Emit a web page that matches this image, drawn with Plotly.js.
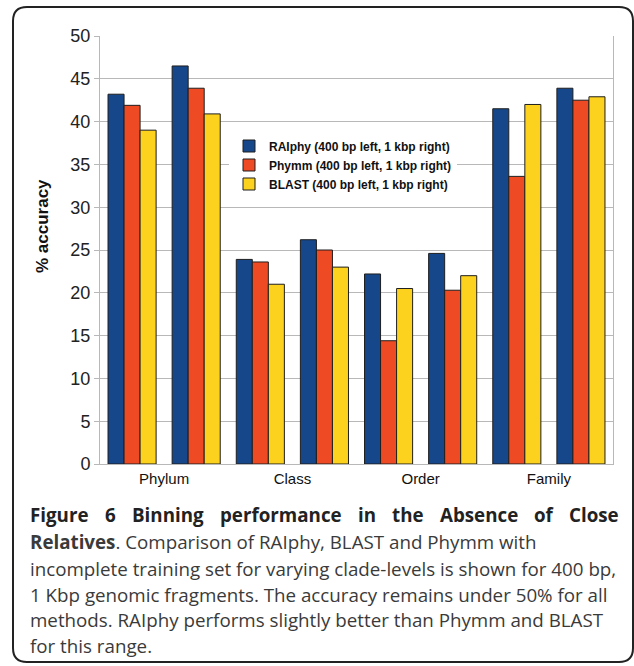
<!DOCTYPE html>
<html>
<head>
<meta charset="utf-8">
<script src="https://cdn.plot.ly/plotly-3.0.1.min.js"></script>
<style>html,body{margin:0;padding:0;background:#fff;overflow:hidden}</style>
</head>
<body>
<div id="chart" style="width:634px;height:666px"></div>
<script>
// ---- data ----
const categories = ["Phylum", "Class", "Order", "Family"];
const fragmentSizes = ["400 bp", "1 kbp"];   // left bar group, right bar group
const seriesNames = [
  "RAIphy (400 bp left, 1 kbp right)",
  "Phymm (400 bp left, 1 kbp right)",
  "BLAST (400 bp left, 1 kbp right)"
];
// values in order: Phylum 400bp, Phylum 1kbp, Class 400bp, Class 1kbp, Order 400bp, Order 1kbp, Family 400bp, Family 1kbp
const raiphy = [43.2, 46.5, 23.9, 26.2, 22.2, 24.6, 41.5, 43.9];
const phymm  = [41.9, 43.9, 23.6, 25.0, 14.4, 20.3, 33.6, 42.5];
const blast  = [39.0, 40.9, 21.0, 23.0, 20.5, 22.0, 42.0, 42.9];
const yTickValues = [0, 5, 10, 15, 20, 25, 30, 35, 40, 45, 50];
const yTitle = "% accuracy";
const captionTitleWords = ["Figure", "6", "Binning", "performance", "in", "the", "Absence", "of", "Close"];
const captionLines = [
  "<b>Relatives</b>. Comparison of RAIphy, BLAST and Phymm with",
  "incomplete training set for varying clade-levels is shown for 400 bp,",
  "1 Kbp genomic fragments. The accuracy remains under 50% for all",
  "methods. RAIphy performs slightly better than Phymm and BLAST",
  "for this range."
];

// ---- layout helpers ----
const W = 634, H = 666;
const M = {l: 100, r: 21, t: 36, b: 202};
const PW = W - M.l - M.r, PH = H - M.t - M.b;
const px = x => (x - M.l) / PW;
const py = y => (H - M.b - y) / PH;

// x positions derived from category / fragment indices
const xPos = [];
categories.forEach((c, ci) => fragmentSizes.forEach((f, fi) => xPos.push(ci * fragmentSizes.length + fi)));
const nGroups = xPos.length;
const catCenters = categories.map((c, ci) => ci * fragmentSizes.length + (fragmentSizes.length - 1) / 2);
const catBounds = [];
for (let i = 0; i <= categories.length; i++) catBounds.push(i * fragmentSizes.length - 0.5);

const colors = ["#16478a", "#ee4b24", "#fdd21f"];
const seriesValues = [raiphy, phymm, blast];

const traces = seriesValues.map((vals, i) => ({
  type: "bar",
  x: xPos,
  y: vals,
  name: seriesNames[i],
  marker: {color: colors[i], line: {color: "#1e1e1e", width: 1}},
  hoverinfo: "y+name"
}));

const gridColor = "#b8b8b8";
const captionFont = "Open Sans";
const captionSize = 18.75;
const annotations = [];

// y-axis title
annotations.push({
  xref: "paper", yref: "paper", x: px(42), y: py(226),
  xanchor: "center", yanchor: "middle", textangle: -90, showarrow: false,
  text: "<b>" + yTitle + "</b>",
  font: {family: "Liberation Sans, Arial, sans-serif", size: 17, color: "#111"}
});

// caption title line, justified between left and right text edges
const textLeft = 30, textRight = 619;
const ctx = document.createElement("canvas").getContext("2d");
ctx.font = "bold " + captionSize + "px '" + captionFont + "'";
const wordW = captionTitleWords.map(w => ctx.measureText(w).width);
const totalW = wordW.reduce((a, b) => a + b, 0);
const gap = (textRight - textLeft - totalW) / (captionTitleWords.length - 1);
let cursor = textLeft;
captionTitleWords.forEach((w, i) => {
  annotations.push({
    xref: "paper", yref: "paper", x: px(cursor - 2), y: py(522 - 7.3),
    xanchor: "left", yanchor: "middle", showarrow: false,
    text: "<b>" + w + "</b>",
    font: {family: captionFont + ", Noto Sans, sans-serif", size: captionSize, color: "#222"}
  });
  cursor += wordW[i] + gap;
});
const lineBase = [549, 575.5, 601.5, 627, 652.5];
captionLines.forEach((t, i) => annotations.push({
  xref: "paper", yref: "paper", x: px(textLeft - 2), y: py(lineBase[i] - 7.3),
  xanchor: "left", yanchor: "middle", showarrow: false,
  text: t,
  font: {family: captionFont + ", Noto Sans, sans-serif", size: captionSize, color: "#3a3a3a"}
}));

// rounded frame
const fl = px(13), fr = px(633), ft = py(7), fb = py(662);
const rx = 14 / PW, ry = 14 / PH;
const framePath = `M${fl + rx},${ft} L${fr - rx},${ft} Q${fr},${ft} ${fr},${ft - ry} ` +
  `L${fr},${fb + ry} Q${fr},${fb} ${fr - rx},${fb} L${fl + rx},${fb} Q${fl},${fb} ${fl},${fb + ry} ` +
  `L${fl},${ft - ry} Q${fl},${ft} ${fl + rx},${ft} Z`;

const layout = {
  width: W, height: H,
  margin: M,
  paper_bgcolor: "#fff",
  plot_bgcolor: "#fff",
  barmode: "group",
  bargap: 0.25,
  bargroupgap: 0,
  showlegend: true,
  legend: {
    x: px(229), y: py(165), xanchor: "left", yanchor: "middle",
    bgcolor: "#fff", borderwidth: 0, traceorder: "normal",
    font: {family: "Liberation Sans, Arial, sans-serif", size: 12, color: "#111", weight: "bold"},
    itemwidth: 30
  },
  xaxis: {
    range: [-0.5, nGroups - 0.5],
    tickmode: "array",
    tickvals: catCenters,
    ticktext: categories,
    ticks: "",
    showgrid: false,
    zeroline: false,
    showline: true, linecolor: gridColor, linewidth: 1,
    ticklabelstandoff: 1,
    tickfont: {family: "Liberation Sans, Arial, sans-serif", size: 15, color: "#111"},
    fixedrange: true
  },
  xaxis2: {
    overlaying: "x", anchor: "y", side: "bottom",
    range: [-0.5, nGroups - 0.5],
    tickmode: "array", tickvals: catBounds,
    ticks: "outside", ticklen: 6, tickcolor: gridColor, tickwidth: 1,
    showticklabels: false, showgrid: false, zeroline: false, showline: false
  },
  yaxis: {
    range: [0, 50],
    tickmode: "array", tickvals: yTickValues,
    ticks: "outside", ticklen: 5, tickcolor: gridColor,
    showgrid: true, gridcolor: gridColor, gridwidth: 1,
    zeroline: false,
    showline: true, linecolor: gridColor, mirror: true,
    tickfont: {family: "Liberation Sans, Arial, sans-serif", size: 18, color: "#222"},
    fixedrange: true
  },
  annotations: annotations,
  shapes: [{
    type: "path", xref: "paper", yref: "paper", path: framePath,
    line: {color: "#222", width: 2}, fillcolor: "rgba(0,0,0,0)"
  }]
};

Plotly.newPlot("chart", traces, layout, {displayModeBar: false, staticPlot: true});
</script>
</body>
</html>
